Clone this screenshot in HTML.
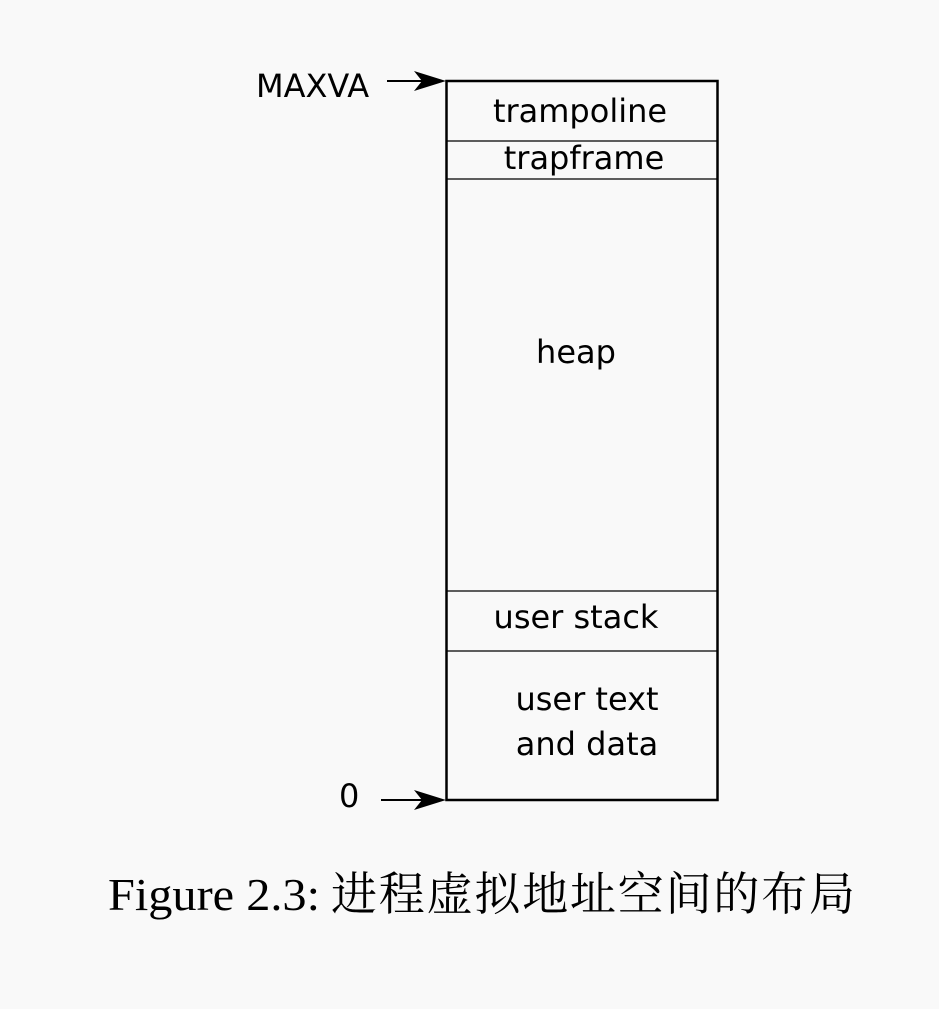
<!DOCTYPE html>
<html><head><meta charset="utf-8"><style>
html,body{margin:0;padding:0;background:#f9f9f9;}
svg{display:block}
</style></head><body>
<svg width="939" height="1009" viewBox="0 0 939 1009" xmlns="http://www.w3.org/2000/svg">
<rect width="939" height="1009" fill="#f9f9f9"/>
<g fill="none" stroke="#000">
<rect x="446.5" y="81" width="271" height="719" stroke-width="2.5"/>
<line x1="446" y1="141" x2="717" y2="141" stroke-width="1.3"/>
<line x1="446" y1="179" x2="717" y2="179" stroke-width="1.3"/>
<line x1="446" y1="591" x2="717" y2="591" stroke-width="1.3"/>
<line x1="446" y1="651" x2="717" y2="651" stroke-width="1.3"/>
<line x1="387" y1="81" x2="430" y2="81" stroke-width="2"/>
<line x1="381" y1="800" x2="430" y2="800" stroke-width="2"/>
</g>
<path d="M446,81 L414,71 L422,81 L414,91 Z" fill="#000"/>
<path d="M446,800 L414,790 L422,800 L414,810 Z" fill="#000"/>
<g font-family="DejaVu Sans, sans-serif" font-size="32" fill="#000">
<text x="256" y="97">MAXVA</text>
<text x="580" y="122" text-anchor="middle">trampoline</text>
<text x="584" y="169" text-anchor="middle">trapframe</text>
<text x="576" y="363" text-anchor="middle">heap</text>
<text x="576" y="628" text-anchor="middle">user stack</text>
<text x="587" y="710" text-anchor="middle">user text</text>
<text x="587" y="755" text-anchor="middle">and data</text>
<text x="339" y="807">0</text>
</g>
<text y="910" font-size="46" fill="#000"><tspan x="108" font-family="Liberation Serif, serif" textLength="212" lengthAdjust="spacingAndGlyphs">Figure 2.3:</tspan><tspan x="331" font-family="Noto Serif CJK SC, Noto Sans CJK SC, serif" textLength="524" lengthAdjust="spacing">进程虚拟地址空间的布局</tspan></text>
</svg>
</body></html>
